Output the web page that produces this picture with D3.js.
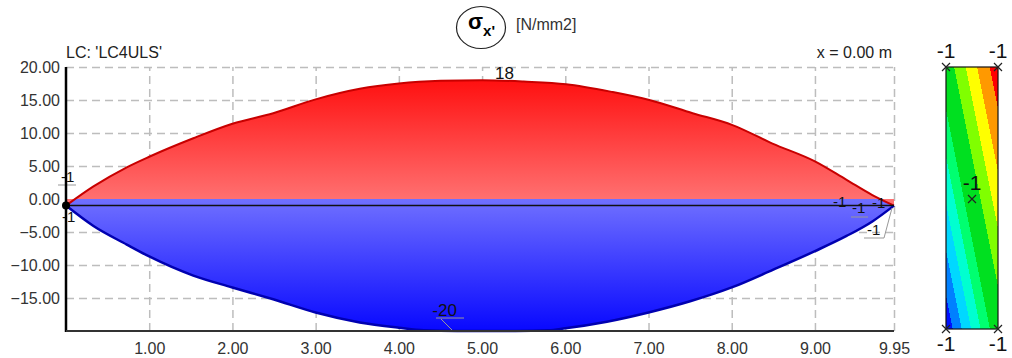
<!DOCTYPE html>
<html>
<head>
<meta charset="utf-8">
<script src="https://cdn.jsdelivr.net/npm/d3@7"></script>
<style>
body { margin: 0; background: #fff; }
svg { display: block; font-family: "Liberation Sans", Arial, sans-serif; }
.grid line { stroke: #bdbdbd; stroke-width: 1.5; stroke-dasharray: 8,5; }
.grid path { display: none; }
.ticks path { display: none; }
.ticks text { font-size: 16px; fill: #333; }
.lbl { font-size: 15px; fill: #111; }
.lead { stroke: #999; stroke-width: 1; fill: none; }
</style>
</head>
<body>
<svg id="chart" width="1012" height="358"></svg>
<script>
// stations along member [m] and stress values [N/mm2]
var topX = [0, 0.33, 0.73, 1.0, 1.53, 2.0, 2.49, 3.0, 3.53, 4.0, 4.5, 5.0, 5.5, 6.01, 6.57, 7.01, 7.53, 8.01, 8.49, 9.0, 9.38, 9.69, 9.95];
var topVal = [-1, 1.9, 4.8, 6.4, 9.2, 11.4, 13.0, 15.1, 16.7, 17.5, 17.9, 18.0, 17.8, 17.4, 16.2, 15.0, 13.0, 11.2, 8.4, 5.7, 2.9, 0.6, -1];
var botX = [0, 0.33, 0.73, 1.0, 1.53, 2.0, 2.49, 3.0, 3.53, 4.0, 4.3, 4.7, 5.0, 5.4, 5.8, 6.0, 6.5, 7.0, 7.5, 8.0, 8.5, 9.0, 9.38, 9.69, 9.95];
var botVal = [-1, -4.1, -6.9, -8.7, -11.6, -13.4, -15.2, -17.2, -18.7, -19.5, -19.9, -20, -20, -20, -19.9, -19.6, -18.6, -17.2, -15.5, -13.4, -10.7, -7.9, -5.6, -3.4, -1];
var memberLine = -1;

var xTicks = [1, 2, 3, 4, 5, 6, 7, 8, 9, 9.95];
var yTicks = [20, 15, 10, 5, 0, -5, -10, -15];
var yGrid = [20, 15, 10, 5, -5, -10, -15];

var legendColors = ["#0010ff", "#0080ff", "#00d8ff", "#00ffd0", "#00ff70", "#00e020", "#80ff00", "#ffff00", "#ff9900", "#ff0000"];
var legendStops = [0, 0.065, 0.15, 0.24, 0.33, 0.42, 0.58, 0.69, 0.8, 0.92, 1.0];
var legendCorner = ["-1", "-1", "-1", "-1"];
var legendMid = "-1";

var svg = d3.select("#chart");
var pl = 66, pr = 894, pt = 67, pb = 331;

var x = d3.scaleLinear().domain([0, 9.95]).range([pl, pr]);
var y = d3.scaleLinear().domain([-20, 20]).range([pb, pt]);

var defs = svg.append("defs");
var gRed = defs.append("linearGradient").attr("id", "gRed")
	.attr("gradientUnits", "userSpaceOnUse")
	.attr("x1", 0).attr("x2", 0).attr("y1", y(18)).attr("y2", y(0));
gRed.append("stop").attr("offset", 0).attr("stop-color", "#ff1010");
gRed.append("stop").attr("offset", 1).attr("stop-color", "#ff7070");

var gBlue = defs.append("linearGradient").attr("id", "gBlue")
	.attr("gradientUnits", "userSpaceOnUse")
	.attr("x1", 0).attr("x2", 0).attr("y1", y(0)).attr("y2", y(-20));
gBlue.append("stop").attr("offset", 0).attr("stop-color", "#7070ff");
gBlue.append("stop").attr("offset", 1).attr("stop-color", "#0808ff");

// grid
svg.append("g").attr("class", "grid")
	.attr("transform", "translate(0," + pb + ")")
	.call(d3.axisBottom(x).tickValues(xTicks).tickSize(-(pb - pt)).tickFormat(""));
svg.append("g").attr("class", "grid")
	.attr("transform", "translate(" + pl + ",0)")
	.call(d3.axisLeft(y).tickValues(yGrid).tickSize(-(pr - pl)).tickFormat(""));

var topPts = topX.map(function(d, i) { return [d, topVal[i]]; });
var botPts = botX.map(function(d, i) { return [d, botVal[i]]; });

var area = d3.area().curve(d3.curveMonotoneX)
	.x(function(d) { return x(d[0]); })
	.y0(y(0))
	.y1(function(d) { return y(d[1]); });
var lineC = d3.line().curve(d3.curveMonotoneX)
	.x(function(d) { return x(d[0]); })
	.y(function(d) { return y(d[1]); });

svg.append("path").attr("d", area(botPts)).attr("fill", "url(#gBlue)");
svg.append("path").attr("d", area(topPts)).attr("fill", "url(#gRed)");
svg.append("path").attr("d", lineC(topPts)).attr("fill", "none").attr("stroke", "#c80000").attr("stroke-width", 2);
svg.append("path").attr("d", lineC(botPts)).attr("fill", "none").attr("stroke", "#0000b0").attr("stroke-width", 2.5);

// member axis line
svg.append("line")
	.attr("x1", x(0)).attr("x2", x(9.95))
	.attr("y1", y(memberLine)).attr("y2", y(memberLine))
	.attr("stroke", "#111").attr("stroke-width", 1.5);

// value labels
function label(t, px, py, anchor, size) {
	svg.append("text").attr("class", "lbl").attr("x", px).attr("y", py)
		.attr("text-anchor", anchor || "middle").style("font-size", (size || 15) + "px").text(t);
}
function lead(pts) {
	svg.append("path").attr("class", "lead").attr("d", d3.line()(pts));
}

label("18", x(5.27), 79, "middle", 17);
label("-20", x(4.55), 316, "middle", 17);
lead([[436, 318], [464, 318]]);
lead([[441, 319], [452, 330]]);

label("-1", 61, 182, "start");
lead([[58, 185], [76, 185]]);
label("-1", 62, 222, "start");
label("-1", 833, 207, "start");
label("-1", 852, 213, "start");
lead([[851, 217], [868, 217]]);
label("-1", 872, 208, "start");
label("-1", 867, 235, "start");
lead([[864, 238], [884, 238], [892, 208]]);

// axes
svg.append("line").attr("x1", pl).attr("x2", pl).attr("y1", pt).attr("y2", pb + 1)
	.attr("stroke", "#000").attr("stroke-width", 2.5);
svg.append("line").attr("x1", pl).attr("x2", pr).attr("y1", pb).attr("y2", pb)
	.attr("stroke", "#333").attr("stroke-width", 2);
svg.append("circle").attr("cx", x(0)).attr("cy", y(memberLine)).attr("r", 4).attr("fill", "#000");

var ya = svg.append("g").attr("class", "ticks")
	.attr("transform", "translate(" + (pl - 6) + ",0)")
	.call(d3.axisLeft(y).tickValues(yTicks).tickSize(0).tickPadding(0).tickFormat(d3.format(".2f")));
ya.selectAll("text").attr("dy", "0.36em");
svg.append("g").attr("class", "ticks")
	.attr("transform", "translate(0," + (pb + 8) + ")")
	.call(d3.axisBottom(x).tickValues(xTicks).tickSize(0).tickPadding(4).tickFormat(d3.format(".2f")));

// header texts
svg.append("text").attr("x", pl).attr("y", 58).style("font-size", "16px").attr("fill", "#222").text("LC: 'LC4ULS'");
svg.append("text").attr("x", pr - 2).attr("y", 58).attr("text-anchor", "end").style("font-size", "16px").attr("fill", "#222").text("x = 0.00 m");

svg.append("ellipse").attr("cx", 481).attr("cy", 27.5).attr("rx", 24.5).attr("ry", 21)
	.attr("fill", "none").attr("stroke", "#222").attr("stroke-width", 1.2);
var sig = svg.append("text").attr("x", 468).attr("y", 29).attr("fill", "#000").style("font-weight", "bold");
sig.append("tspan").style("font-size", "22px").text("σ");
sig.append("tspan").attr("dy", 7).style("font-size", "15px").text("x'");
svg.append("text").attr("x", 516).attr("y", 30).style("font-size", "16px").attr("fill", "#333").text("[N/mm2]");

// colour legend box
var bx0 = 946, bx1 = 998, by0 = 67, by1 = 329;
var slope = 0.2;
var ux = 1 / Math.sqrt(1 + slope * slope), uy = -slope / Math.sqrt(1 + slope * slope);
var len = (bx1 - bx0) * ux + (by0 - by1) * uy;
var gLeg = defs.append("linearGradient").attr("id", "gLeg")
	.attr("gradientUnits", "userSpaceOnUse")
	.attr("x1", bx0).attr("y1", by1)
	.attr("x2", bx0 + len * ux).attr("y2", by1 + len * uy);
legendColors.forEach(function(c, i) {
	gLeg.append("stop").attr("offset", legendStops[i]).attr("stop-color", c);
	gLeg.append("stop").attr("offset", legendStops[i + 1]).attr("stop-color", c);
});
svg.append("rect").attr("x", bx0).attr("y", by0).attr("width", bx1 - bx0).attr("height", by1 - by0)
	.attr("fill", "url(#gLeg)").attr("stroke", "#111").attr("stroke-width", 1.2);

var corners = [[bx0, by0], [bx1, by0], [bx0, by1], [bx1, by1]];
function cross(cx, cy) {
	svg.append("path").attr("d", "M" + (cx - 4) + "," + (cy - 4) + "L" + (cx + 4) + "," + (cy + 4) + "M" + (cx + 4) + "," + (cy - 4) + "L" + (cx - 4) + "," + (cy + 4))
		.attr("stroke", "#222").attr("stroke-width", 1.2);
}
corners.forEach(function(c, i) {
	cross(c[0], c[1]);
	svg.append("text").attr("x", c[0]).attr("y", i < 2 ? c[1] - 9 : c[1] + 22)
		.attr("text-anchor", "middle").style("font-size", "21px").attr("fill", "#111").text(legendCorner[i]);
});
cross(972, 199);
svg.append("text").attr("x", 972).attr("y", 190).attr("text-anchor", "middle").style("font-size", "21px").attr("fill", "#111").text(legendMid);
</script>
</body>
</html>
